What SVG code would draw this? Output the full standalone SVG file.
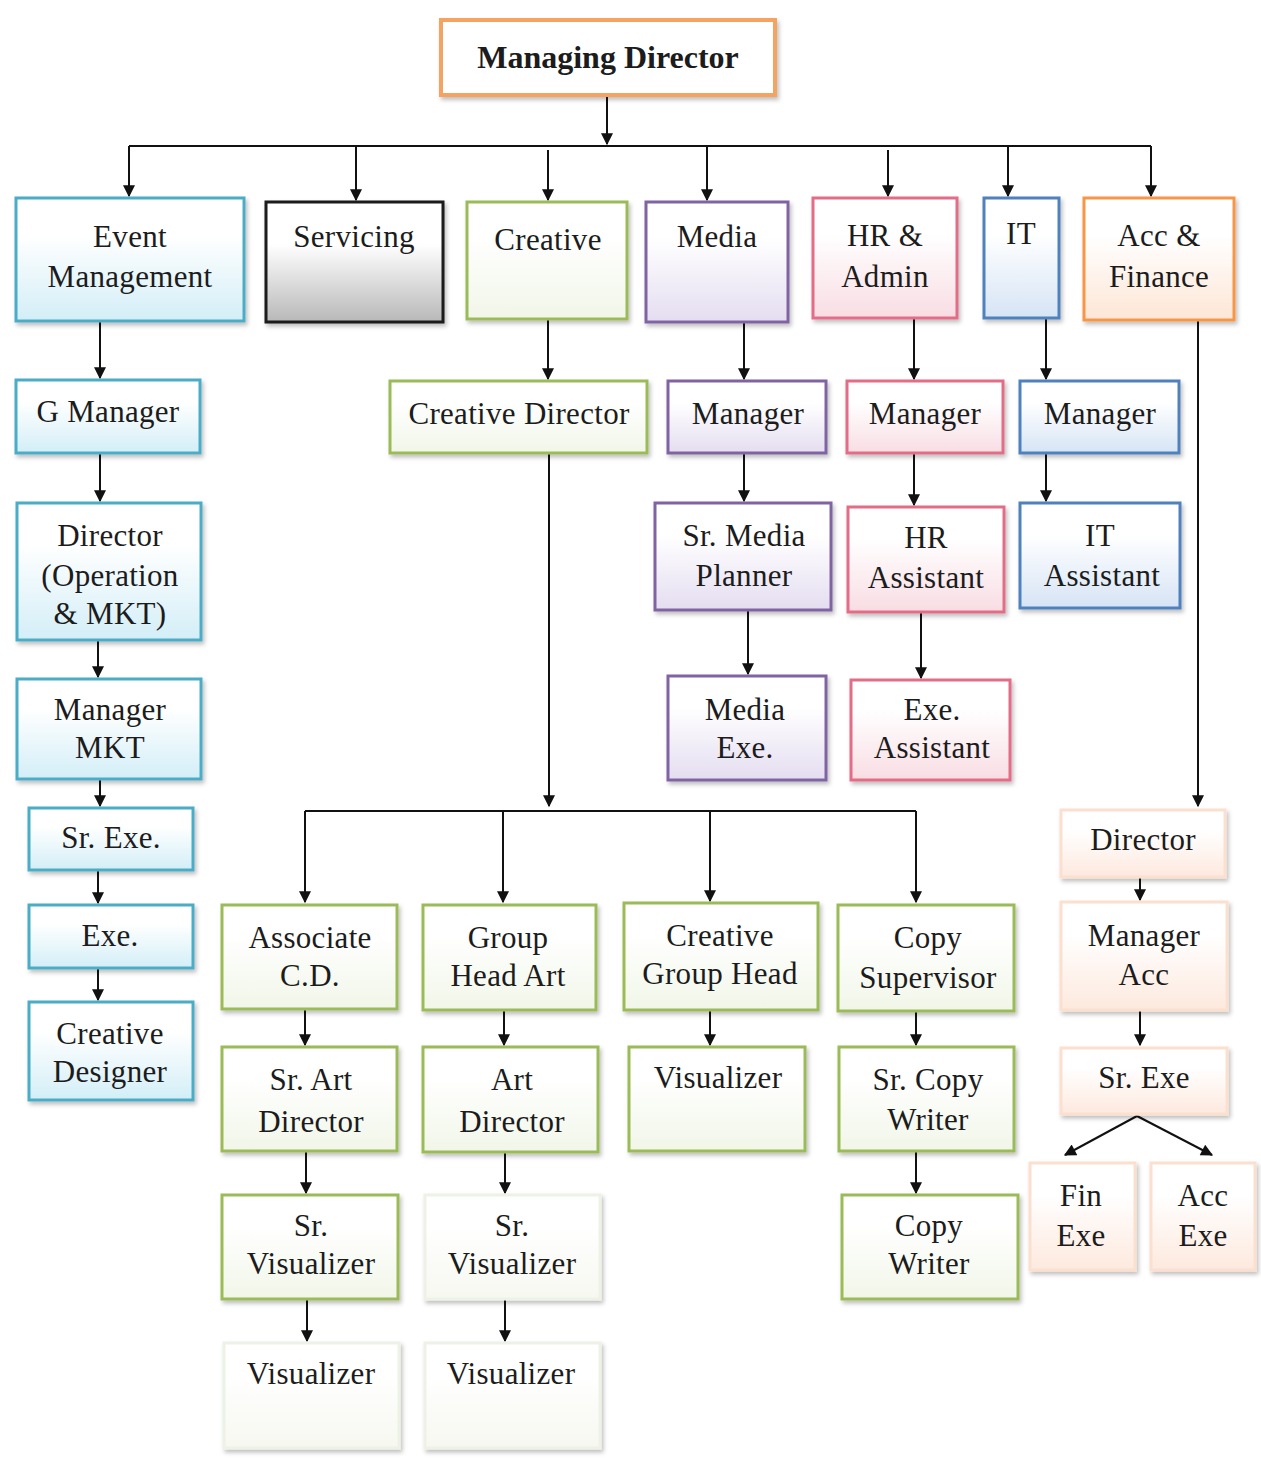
<svg xmlns="http://www.w3.org/2000/svg" width="1261" height="1459" viewBox="0 0 1261 1459">
<style>
text{font-family:"Liberation Serif","Times New Roman",serif;font-size:31px;letter-spacing:0.3px;fill:#1c1c1c;text-anchor:middle}
.b{font-weight:bold;font-size:32px;letter-spacing:0}
rect{stroke-width:3;filter:url(#sh)}
.cy{stroke:#4bacc6;fill:url(#gcy)}
.bk{stroke:#1a1a1a;fill:url(#gbk)}
.gr{stroke:#9bbb59;fill:url(#ggr)}
.pu{stroke:#8064a2;fill:url(#gpu)}
.pk{stroke:#e36c87;fill:url(#gpk)}
.bl{stroke:#4f81bd;fill:url(#gbl)}
.or{stroke:#f79646;fill:url(#gor)}
.lo{stroke:#fbe0d0;fill:url(#glo)}
.lg{stroke:#eef2e6;fill:url(#glg)}
.md{stroke:#f4a460;stroke-width:4;fill:#fff}
#con line,#con path{stroke:#111;stroke-width:2;fill:none}
.a{marker-end:url(#ar)}
</style>
<defs>
<marker id="ar" viewBox="0 0 10 10" refX="9" refY="5" markerWidth="7" markerHeight="6" orient="auto" markerUnits="strokeWidth"><path d="M0,0 L10,5 L0,10 z" fill="#111"/></marker>
<filter id="sh" x="-10%" y="-10%" width="125%" height="130%"><feDropShadow dx="2" dy="3" stdDeviation="2" flood-color="#000" flood-opacity="0.25"/></filter>
<linearGradient id="gcy" x1="0" y1="0" x2="0" y2="1"><stop offset="0.3" stop-color="#fff"/><stop offset="1" stop-color="#d3eef7"/></linearGradient>
<linearGradient id="gbk" x1="0" y1="0" x2="0" y2="1"><stop offset="0.35" stop-color="#fff"/><stop offset="1" stop-color="#b8b8b8"/></linearGradient>
<linearGradient id="ggr" x1="0" y1="0" x2="0" y2="1"><stop offset="0.3" stop-color="#fff"/><stop offset="1" stop-color="#f1f6e8"/></linearGradient>
<linearGradient id="gpu" x1="0" y1="0" x2="0" y2="1"><stop offset="0.3" stop-color="#fff"/><stop offset="1" stop-color="#e4ddf0"/></linearGradient>
<linearGradient id="gpk" x1="0" y1="0" x2="0" y2="1"><stop offset="0.3" stop-color="#fff"/><stop offset="1" stop-color="#f8dde3"/></linearGradient>
<linearGradient id="gbl" x1="0" y1="0" x2="0" y2="1"><stop offset="0.3" stop-color="#fff"/><stop offset="1" stop-color="#d6e4f5"/></linearGradient>
<linearGradient id="gor" x1="0" y1="0" x2="0" y2="1"><stop offset="0.3" stop-color="#fff"/><stop offset="1" stop-color="#fde6d6"/></linearGradient>
<linearGradient id="glo" x1="0" y1="0" x2="0" y2="1"><stop offset="0.3" stop-color="#fff"/><stop offset="1" stop-color="#fde9de"/></linearGradient>
<linearGradient id="glg" x1="0" y1="0" x2="0" y2="1"><stop offset="0.3" stop-color="#fff"/><stop offset="1" stop-color="#f6f8f0"/></linearGradient>
</defs>
<rect x="0" y="0" width="1261" height="1459" fill="#fff" style="filter:none;stroke:none"/>

<g id="con">
<line class="a" x1="607" y1="95" x2="607" y2="144"/>
<line x1="129" y1="146" x2="1151" y2="146"/>
<line class="a" x1="129" y1="146" x2="129" y2="196"/>
<line class="a" x1="356" y1="146" x2="356" y2="200"/>
<line class="a" x1="548" y1="150" x2="548" y2="200"/>
<line class="a" x1="707" y1="146" x2="707" y2="200"/>
<line class="a" x1="888" y1="150" x2="888" y2="196"/>
<line class="a" x1="1008" y1="146" x2="1008" y2="196"/>
<line class="a" x1="1151" y1="146" x2="1151" y2="196"/>
<line class="a" x1="100" y1="321" x2="100" y2="378"/>
<line class="a" x1="100" y1="453" x2="100" y2="501"/>
<line class="a" x1="98" y1="640" x2="98" y2="677"/>
<line class="a" x1="100" y1="779" x2="100" y2="806"/>
<line class="a" x1="98" y1="870" x2="98" y2="903"/>
<line class="a" x1="98" y1="968" x2="98" y2="1000"/>
<line class="a" x1="548" y1="319" x2="548" y2="379"/>
<line class="a" x1="549" y1="453" x2="549" y2="806"/>
<line x1="305" y1="811" x2="916" y2="811"/>
<line class="a" x1="305" y1="811" x2="305" y2="902"/>
<line class="a" x1="503" y1="811" x2="503" y2="902"/>
<line class="a" x1="710" y1="811" x2="710" y2="901"/>
<line class="a" x1="916" y1="811" x2="916" y2="902"/>
<line class="a" x1="305" y1="1009" x2="305" y2="1045"/>
<line class="a" x1="504" y1="1010" x2="504" y2="1045"/>
<line class="a" x1="710" y1="1010" x2="710" y2="1045"/>
<line class="a" x1="916" y1="1011" x2="916" y2="1045"/>
<line class="a" x1="306" y1="1151" x2="306" y2="1193"/>
<line class="a" x1="505" y1="1152" x2="505" y2="1193"/>
<line class="a" x1="916" y1="1151" x2="916" y2="1193"/>
<line class="a" x1="307" y1="1299" x2="307" y2="1341"/>
<line class="a" x1="505" y1="1299" x2="505" y2="1341"/>
<line class="a" x1="744" y1="322" x2="744" y2="379"/>
<line class="a" x1="744" y1="453" x2="744" y2="501"/>
<line class="a" x1="748" y1="610" x2="748" y2="674"/>
<line class="a" x1="914" y1="318" x2="914" y2="379"/>
<line class="a" x1="914" y1="453" x2="914" y2="505"/>
<line class="a" x1="921" y1="612" x2="921" y2="678"/>
<line class="a" x1="1046" y1="318" x2="1046" y2="379"/>
<line class="a" x1="1046" y1="453" x2="1046" y2="501"/>
<line class="a" x1="1198" y1="320" x2="1198" y2="806"/>
<line class="a" x1="1140" y1="877" x2="1140" y2="900"/>
<line class="a" x1="1140" y1="1010" x2="1140" y2="1045"/>
<line class="a" x1="1137" y1="1116" x2="1065" y2="1155"/>
<line class="a" x1="1137" y1="1116" x2="1212" y2="1155"/>
</g>

<g id="n-md"><rect class="md" x="441" y="20" width="334" height="75"/><text class="b" x="608" y="68">Managing Director</text></g>

<g id="n-em"><rect class="cy" x="16" y="198" width="228" height="123"/><text x="130" y="247">Event</text><text x="130" y="287">Management</text></g>
<g id="n-serv"><rect class="bk" x="266" y="202" width="177" height="120"/><text x="354" y="247">Servicing</text></g>
<g id="n-creative"><rect class="gr" x="467" y="202" width="160" height="117"/><text x="548" y="250">Creative</text></g>
<g id="n-media"><rect class="pu" x="646" y="202" width="142" height="120"/><text x="717" y="247">Media</text></g>
<g id="n-hr"><rect class="pk" x="813" y="198" width="144" height="120"/><text x="885" y="246">HR &amp;</text><text x="885" y="287">Admin</text></g>
<g id="n-it"><rect class="bl" x="984" y="198" width="75" height="120"/><text x="1021" y="244">IT</text></g>
<g id="n-acc"><rect class="or" x="1084" y="198" width="150" height="122"/><text x="1159" y="246">Acc &amp;</text><text x="1159" y="287">Finance</text></g>

<g id="n-gm"><rect class="cy" x="16" y="380" width="184" height="73"/><text x="108" y="422">G Manager</text></g>
<g id="n-dir-op"><rect class="cy" x="17" y="503" width="184" height="137"/><text x="110" y="546">Director</text><text x="110" y="586">(Operation</text><text x="110" y="624">&amp; MKT)</text></g>
<g id="n-mgr-mkt"><rect class="cy" x="17" y="679" width="184" height="100"/><text x="110" y="720">Manager</text><text x="110" y="758">MKT</text></g>
<g id="n-srexe"><rect class="cy" x="29" y="808" width="164" height="62"/><text x="111" y="848">Sr. Exe.</text></g>
<g id="n-exe"><rect class="cy" x="29" y="905" width="164" height="63"/><text x="110" y="946">Exe.</text></g>
<g id="n-cdes"><rect class="cy" x="29" y="1002" width="164" height="98"/><text x="110" y="1044">Creative</text><text x="110" y="1082">Designer</text></g>

<g id="n-cd"><rect class="gr" x="390" y="381" width="257" height="72"/><text x="519" y="424">Creative Director</text></g>
<g id="n-acd"><rect class="gr" x="222" y="905" width="175" height="104"/><text x="310" y="948">Associate</text><text x="310" y="986">C.D.</text></g>
<g id="n-gha"><rect class="gr" x="423" y="905" width="173" height="105"/><text x="508" y="948">Group</text><text x="508" y="986">Head Art</text></g>
<g id="n-cgh"><rect class="gr" x="624" y="903" width="194" height="107"/><text x="720" y="946">Creative</text><text x="720" y="984">Group Head</text></g>
<g id="n-cs"><rect class="gr" x="838" y="905" width="176" height="106"/><text x="928" y="948">Copy</text><text x="928" y="988">Supervisor</text></g>
<g id="n-sad"><rect class="gr" x="222" y="1047" width="175" height="104"/><text x="311" y="1090">Sr. Art</text><text x="311" y="1132">Director</text></g>
<g id="n-ad"><rect class="gr" x="423" y="1047" width="175" height="105"/><text x="512" y="1090">Art</text><text x="512" y="1132">Director</text></g>
<g id="n-vis1"><rect class="gr" x="629" y="1047" width="176" height="104"/><text x="718" y="1088">Visualizer</text></g>
<g id="n-scw"><rect class="gr" x="839" y="1047" width="175" height="104"/><text x="928" y="1090">Sr. Copy</text><text x="928" y="1130">Writer</text></g>
<g id="n-sv1"><rect class="gr" x="222" y="1195" width="176" height="104"/><text x="311" y="1236">Sr.</text><text x="311" y="1274">Visualizer</text></g>
<g id="n-sv2"><rect class="lg" x="425" y="1195" width="175" height="104"/><text x="512" y="1236">Sr.</text><text x="512" y="1274">Visualizer</text></g>
<g id="n-cw"><rect class="gr" x="842" y="1195" width="176" height="104"/><text x="929" y="1236">Copy</text><text x="929" y="1274">Writer</text></g>
<g id="n-vis2"><rect class="lg" x="224" y="1343" width="175" height="105"/><text x="311" y="1384">Visualizer</text></g>
<g id="n-vis3"><rect class="lg" x="425" y="1343" width="175" height="105"/><text x="511" y="1384">Visualizer</text></g>

<g id="n-mmgr"><rect class="pu" x="668" y="381" width="158" height="72"/><text x="748" y="424">Manager</text></g>
<g id="n-smp"><rect class="pu" x="655" y="503" width="176" height="107"/><text x="744" y="546">Sr. Media</text><text x="744" y="586">Planner</text></g>
<g id="n-mexe"><rect class="pu" x="668" y="676" width="158" height="104"/><text x="745" y="720">Media</text><text x="745" y="758">Exe.</text></g>

<g id="n-hmgr"><rect class="pk" x="847" y="381" width="156" height="72"/><text x="925" y="424">Manager</text></g>
<g id="n-hra"><rect class="pk" x="848" y="507" width="156" height="105"/><text x="926" y="548">HR</text><text x="926" y="588">Assistant</text></g>
<g id="n-exa"><rect class="pk" x="851" y="680" width="159" height="100"/><text x="932" y="720">Exe.</text><text x="932" y="758">Assistant</text></g>

<g id="n-imgr"><rect class="bl" x="1020" y="381" width="159" height="72"/><text x="1100" y="424">Manager</text></g>
<g id="n-ita"><rect class="bl" x="1020" y="503" width="160" height="105"/><text x="1100" y="546">IT</text><text x="1102" y="586">Assistant</text></g>

<g id="n-adir"><rect class="lo" x="1061" y="810" width="164" height="67"/><text x="1143" y="850">Director</text></g>
<g id="n-amgr"><rect class="lo" x="1061" y="902" width="166" height="108"/><text x="1144" y="946">Manager</text><text x="1144" y="985">Acc</text></g>
<g id="n-asr"><rect class="lo" x="1061" y="1048" width="166" height="66"/><text x="1144" y="1088">Sr. Exe</text></g>
<g id="n-fin"><rect class="lo" x="1030" y="1163" width="105" height="107"/><text x="1081" y="1206">Fin</text><text x="1081" y="1246">Exe</text></g>
<g id="n-accexe"><rect class="lo" x="1151" y="1163" width="104" height="107"/><text x="1203" y="1206">Acc</text><text x="1203" y="1246">Exe</text></g>
</svg>
